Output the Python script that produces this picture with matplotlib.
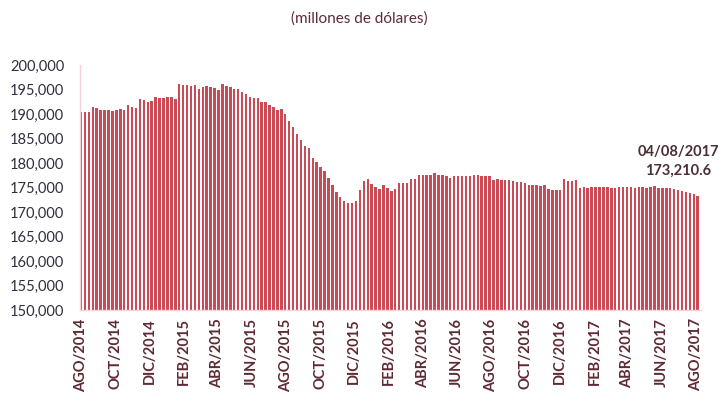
import matplotlib
matplotlib.use("Agg")
import matplotlib.pyplot as plt
import matplotlib.dates as mdates
from matplotlib.ticker import FuncFormatter
import pandas as pd

# weekly international reserves, millions of dollars
reservas = [
    190.5, 190.5, 190.4, 191.5, 191.3, 190.9, 190.9, 190.8, 190.6, 190.9,
    191.1, 190.8, 191.8, 191.5, 191.3, 193.0, 192.9, 192.5, 192.6, 193.4,
    193.2, 193.2, 193.4, 193.4, 193.0, 196.2, 196.0, 196.0, 195.8, 195.9,
    195.1, 195.6, 195.7, 195.6, 195.4, 194.9, 196.1, 195.7, 195.5, 195.1,
    195.1, 194.4, 194.0, 193.4, 193.3, 193.3, 192.5, 192.4, 191.9, 191.5,
    190.8, 191.0, 189.9, 188.5, 187.4, 185.9, 184.6, 183.5, 183.1, 181.0,
    180.3, 179.2, 178.4, 177.0, 175.5, 174.1, 173.1, 172.2, 171.8, 171.8,
    172.2, 174.5, 176.3, 176.7, 175.7, 175.2, 174.6, 175.5, 174.9, 174.2,
    174.6, 176.0, 176.0, 176.0, 176.8, 176.7, 177.5, 177.6, 177.6, 177.6,
    177.9, 177.6, 177.6, 177.4, 177.0, 177.4, 177.4, 177.4, 177.4, 177.4,
    177.6, 177.5, 177.4, 177.3, 177.4, 176.6, 176.7, 176.6, 176.5, 176.5,
    176.3, 176.1, 176.1, 175.9, 175.5, 175.5, 175.5, 175.3, 175.6, 174.7,
    174.5, 174.4, 174.4, 176.7, 176.3, 176.3, 176.6, 174.9, 175.1, 174.9,
    175.0, 175.1, 175.1, 175.05, 175.2, 174.85, 174.8, 175.0, 175.0, 175.0,
    175.0, 174.9, 175.0, 175.0, 174.9, 175.1, 175.3, 174.9, 174.8, 174.8,
    174.8, 174.6, 174.4, 174.3, 174.1, 173.9, 173.7, 173.2106,
]
reservas = [v * 1000 for v in reservas]
fechas = pd.date_range("2014-08-01", "2017-08-04", freq="W-FRI")
MESES = ["ENE", "FEB", "MAR", "ABR", "MAY", "JUN", "JUL", "AGO", "SEP", "OCT", "NOV", "DIC"]
ultimo_txt = "04/08/2017\n173,210.6"

BAR = "#CA4A55"
TXT = "#5E2A33"

plt.rcParams["font.family"] = ["Lato", "DejaVu Sans"]

fig = plt.figure(figsize=(7.19, 4.05), dpi=100)
ax = fig.add_axes([0.1107, 0.2346, 0.8636, 0.6049])

ax.bar(fechas, reservas, width=4.4, color=BAR, linewidth=0, align="center")

ax.set_ylim(150000, 200000)
ax.set_yticks(range(150000, 200001, 5000))
ax.yaxis.set_major_formatter(FuncFormatter(lambda v, p: f"{int(v):,}"))
ax.set_xlim(fechas[0] - pd.Timedelta(days=2.5), fechas[-1] + pd.Timedelta(days=5))

ax.xaxis.set_major_locator(mdates.MonthLocator(bymonth=[2, 4, 6, 8, 10, 12]))
ax.xaxis.set_major_formatter(FuncFormatter(
    lambda v, p: f"{MESES[mdates.num2date(v).month - 1]}/{mdates.num2date(v).year}"))

ax.tick_params(axis="y", length=0, pad=11, labelsize=10.5, labelcolor="#2F2F3F")
ax.tick_params(axis="x", length=0, pad=6, labelsize=10.5, labelcolor=TXT)
for t in ax.get_xticklabels():
    t.set_rotation(90)
    t.set_fontweight("bold")

for s in ["top", "right"]:
    ax.spines[s].set_visible(False)
for s in ["left", "bottom"]:
    ax.spines[s].set_color("#F3D3D8")
    ax.spines[s].set_linewidth(1.0)

fig.text(0.5, 0.955, "(millones de dólares)", ha="center", va="center",
         fontsize=11, color=TXT)
ax.annotate(ultimo_txt, xy=(fechas[-1], reservas[-1]), xytext=(-14, 13),
            textcoords="offset points", ha="center", va="bottom",
            fontsize=10.5, fontweight="bold", color="#4A2E33", linespacing=1.5)

fig.savefig("out.png", dpi=100)
